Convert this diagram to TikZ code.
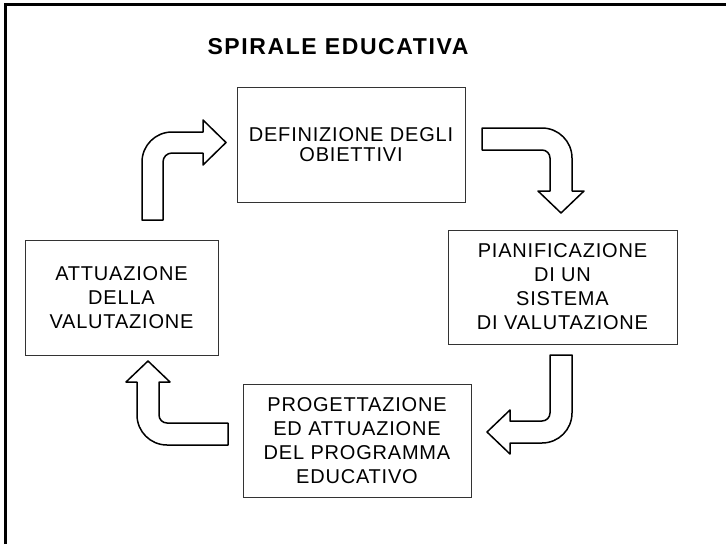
\documentclass[tikz,border=0pt]{standalone}
\usepackage{fontspec}
\setmainfont{Liberation Sans}
\newfontfamily\boxfont{Liberation Sans}[LetterSpace=4]
\newfontfamily\titlefont{Liberation Sans Bold}[LetterSpace=7]

\tikzset{
  stepbox/.style={draw=black!80, line width=1pt, inner sep=0pt, align=center,
    font=\boxfont\fontsize{20}{24}\selectfont},
  bentarrow/.style={draw=black, line width=1.5pt, fill=white, line join=round}
}

\begin{document}
\begin{tikzpicture}[x=1pt, y=-1pt]
  \useasboundingbox (0,0) rectangle (726,544);
  \draw[line width=3pt] (5,544) -- (5,4) -- (726,4);

  \node (title) at (338,47) {\titlefont\fontsize{23}{24}\selectfont SPIRALE EDUCATIVA};

  \node[stepbox, minimum width=228pt, minimum height=115pt,
        font=\boxfont\fontsize{20}{20}\selectfont] (defin) at (351,144.5)
        {DEFINIZIONE DEGLI\\OBIETTIVI};
  \node[stepbox, minimum width=229pt, minimum height=114pt] (pianif) at (562.5,287)
        {PIANIFICAZIONE\\DI UN\\SISTEMA\\DI VALUTAZIONE};
  \node[stepbox, minimum width=228pt, minimum height=113pt] (proget) at (357,440.5)
        {PROGETTAZIONE\\ED ATTUAZIONE\\DEL PROGRAMMA\\EDUCATIVO};
  \node[stepbox, minimum width=193pt, minimum height=115pt] (attuaz) at (121.5,297.5)
        {ATTUAZIONE\\DELLA\\VALUTAZIONE};

  % attuaz -> defin
  \draw[bentarrow] (142,220) -- (142,162) arc[start angle=180, end angle=270, radius=30]
    -- (203,132) -- (203,120) -- (226,142.5) -- (203,165) -- (203,153) -- (172,153)
    arc[start angle=270, end angle=180, radius=9] -- (163,220) -- cycle;
  % defin -> pianif
  \draw[bentarrow] (482,128) -- (542,128) arc[start angle=270, end angle=360, radius=30]
    -- (572,191) -- (584,191) -- (561,213) -- (538,191) -- (550,191) -- (550,158)
    arc[start angle=0, end angle=-90, radius=8] -- (482,150) -- cycle;
  % pianif -> proget
  \draw[bentarrow] (550,355) -- (572,355) -- (572,413) arc[start angle=0, end angle=90, radius=30]
    -- (510,443) -- (510,454) -- (487,432) -- (510,410) -- (510,421) -- (542,421)
    arc[start angle=90, end angle=0, radius=8] -- cycle;
  % proget -> attuaz
  \draw[bentarrow] (228,445) -- (167,445) arc[start angle=90, end angle=180, radius=30]
    -- (137,382) -- (126,382) -- (148,361) -- (170,382) -- (159,382) -- (159,415)
    arc[start angle=180, end angle=90, radius=8] -- (228,423) -- cycle;
\end{tikzpicture}
\end{document}
